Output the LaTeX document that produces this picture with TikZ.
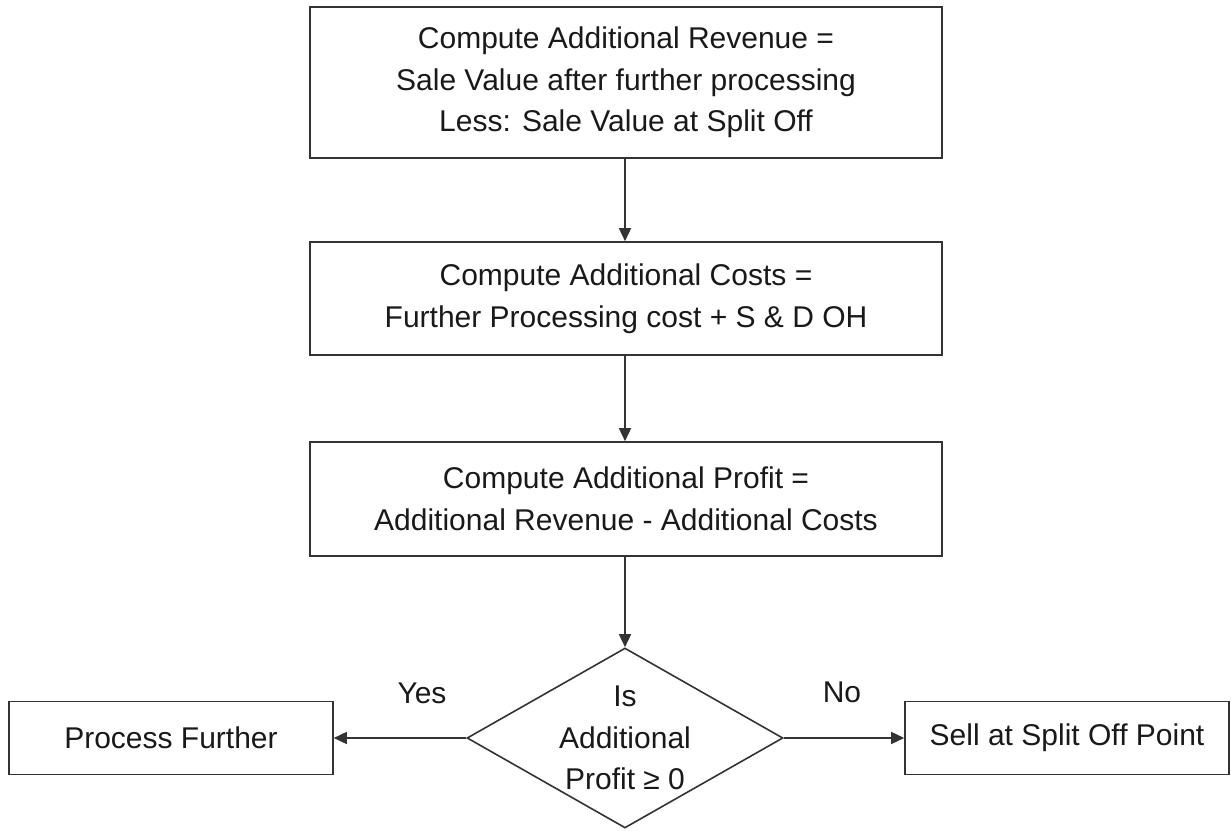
\documentclass[tikz,border=0pt]{standalone}
\usepackage{fontspec}
\setmainfont{Liberation Sans}
\usepackage{tikz}
\usetikzlibrary{shapes.geometric,arrows.meta}

\begin{document}
\begin{tikzpicture}[x=0.5pt, y=0.5pt,
  every node/.style={font=\fontsize{15}{20.8}\selectfont, text=black!90},
  procbox/.style={draw=black!80, line width=0.8pt, align=center, inner sep=0pt},
  decision/.style={diamond, draw=black!80, line width=0.8pt, align=center, inner sep=0pt, aspect=1.76, minimum width=158pt, minimum height=90pt},
  flow/.style={draw=black!80, line width=0.8pt, -{Triangle[length=6.5pt,width=6pt]}}]
\useasboundingbox (0,0) rectangle (1231,830);
\node[procbox, minimum width=316pt, minimum height=75.5pt] (rev) at (626,747.5) {Compute Additional Revenue =\\Sale Value after further processing\\Less: Sale Value at Split Off};
\node[procbox, minimum width=316pt, minimum height=56.5pt] (cost) at (626,531.5) {Compute Additional Costs =\\Further Processing cost + S \& D OH};
\node[procbox, minimum width=316pt, minimum height=57pt] (profit) at (626,331) {Compute Additional Profit =\\Additional Revenue - Additional Costs};
\node[decision] (check) at (625,92) {Is\\Additional\\Profit ≥ 0};
\node[procbox, minimum width=162pt, minimum height=36.5pt] (further) at (171,92) {Process Further};
\node[procbox, minimum width=162pt, minimum height=36.5pt] (sell) at (1067,92) {Sell at Split Off Point};
\node (yes) at (422,137) {Yes};
\node (no) at (842,138) {No};
\draw[flow] (rev.south -| check.north) -- (cost.north -| check.north);
\draw[flow] (cost.south -| check.north) -- (profit.north -| check.north);
\draw[flow] (profit.south -| check.north) -- (check.north);
\draw[flow] (check.west) -- (further.east);
\draw[flow] (check.east) -- (sell.west);
\end{tikzpicture}
\end{document}
